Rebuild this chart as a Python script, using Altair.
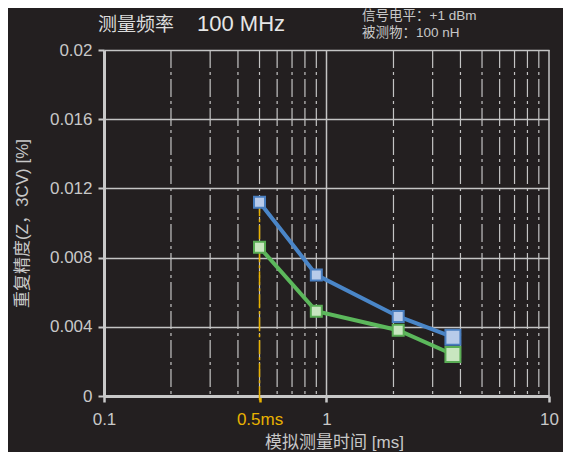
import altair as alt
import pandas as pd

# ---- data ----
t_ms = [0.5, 0.9, 2.1, 3.7]
blue_cv = [0.0112, 0.0070, 0.0046, 0.0034]
green_cv = [0.0086, 0.0049, 0.0038, 0.0024]
series = ["s1", "s2"]
minor_x = [0.2, 0.3, 0.4, 0.5, 0.6, 0.7, 0.8, 0.9, 2, 3, 4, 5, 6, 7, 8, 9]
major_x = [1, 10]
x_ticks = [0.1, 0.5, 1, 10]
y_ticks = [0, 0.004, 0.008, 0.012, 0.016, 0.02]
marker_t = [0.5]
marker_cv = [0.0112]

title_label = "测量频率"
title_value = "100 MHz"
info_lines = ["信号电平：+1 dBm", "被测物：100 nH"]
x_title = "模拟测量时间 [ms]"
y_title = "重复精度(Z，3CV) [%]"

BG = "#231f20"
FG = "#c8c8c8"
ORANGE = "#e8b200"
FONT = "Liberation Sans, Noto Sans CJK SC"

df = pd.DataFrame({
    "t": t_ms + t_ms,
    "cv": blue_cv + green_cv,
    "s": [series[0]] * len(t_ms) + [series[1]] * len(t_ms),
})
minor_df = pd.DataFrame({"t": minor_x})
major_df = pd.DataFrame({"t": major_x})
mark_df = pd.DataFrame({"t": marker_t, "cv": marker_cv})
one = pd.DataFrame({"a": [0]})

xscale = alt.Scale(type="log", domain=[0.1, 10])
yscale = alt.Scale(domain=[0, 0.02])

xaxis = alt.Axis(
    values=x_ticks, grid=False, title=x_title,
    labelExpr="datum.value == 0.5 ? '0.5ms' : '' + datum.value",
    labelColor={"condition": {"test": "datum.value == 0.5", "value": ORANGE}, "value": FG},
    tickColor={"condition": {"test": "datum.value == 0.5", "value": ORANGE}, "value": FG},
    labelFlush=False, labelFontSize=17, labelFont=FONT,
    labelPadding=9, tickSize=6, tickWidth=2.5,
    domainColor=FG, domainWidth=3,
    titleColor=FG, titleFontSize=17, titleFont=FONT, titleFontWeight="normal",
    titleX=230, titleY=46, titleBaseline="middle", titleAnchor="middle",
)
yaxis = alt.Axis(
    values=y_ticks, grid=True, gridColor="#c4c4c4", gridWidth=1.5,
    title=y_title, labelExpr="'' + datum.value",
    labelColor=FG, labelFontSize=17, labelFont=FONT, labelPadding=6,
    tickSize=6, tickWidth=2, tickColor=FG,
    domainColor=FG, domainWidth=3,
    titleColor=FG, titleFontSize=17, titleFont=FONT, titleFontWeight="normal",
    titleX=-82, titleY=173, titleAngle=-90,
    titleBaseline="middle", titleAlign="center",
)

X = alt.X("t:Q", scale=xscale, axis=xaxis)
Y = alt.Y("cv:Q", scale=yscale, axis=yaxis)

minor = alt.Chart(minor_df).mark_rule(
    color="#c4c4c4", strokeWidth=1.2, strokeDash=[18, 4, 3, 4]
).encode(x=X, y=alt.value(0), y2=alt.value(346))
major = alt.Chart(major_df).mark_rule(color="#c4c4c4", strokeWidth=1.5).encode(
    x=X, y=alt.value(0), y2=alt.value(346))
orange = alt.Chart(mark_df).mark_rule(
    color=ORANGE, strokeWidth=1.5, strokeDash=[14, 3, 3, 3]
).encode(x=X, y=Y, y2=alt.value(353))

color_scale = alt.Scale(domain=series, range=["#4a86c8", "#5cb85c"])
fill_scale = alt.Scale(domain=series, range=["#b8cbea", "#c8e6c0"])
stroke_scale = alt.Scale(domain=series, range=["#4a7fc0", "#5aad55"])

lines = alt.Chart(df).mark_line(strokeWidth=4).encode(
    x=X, y=Y, color=alt.Color("s:N", scale=color_scale, legend=None),
)
points = alt.Chart(df).mark_square(filled=True, strokeWidth=2, opacity=1).encode(
    x=X, y=Y,
    fill=alt.Fill("s:N", scale=fill_scale, legend=None),
    stroke=alt.Stroke("s:N", scale=stroke_scale, legend=None),
    size=alt.condition("datum.t > 3", alt.value(225), alt.value(121)),
)

t1 = alt.Chart(one).mark_text(
    align="left", baseline="alphabetic", fontSize=19, font=FONT, color="#dcdcdc"
).encode(x=alt.value(-6), y=alt.value(-19), text=alt.value(title_label))
t2 = alt.Chart(one).mark_text(
    align="left", baseline="alphabetic", fontSize=22, font=FONT, color="#e6e6e6"
).encode(x=alt.value(93), y=alt.value(-19), text=alt.value(title_value))
t3 = alt.Chart(one).mark_text(
    align="left", baseline="middle", fontSize=13.5, font=FONT, color="#c8c8c8"
).encode(x=alt.value(258), y=alt.value(-34), text=alt.value(info_lines[0]))
t4 = alt.Chart(one).mark_text(
    align="left", baseline="middle", fontSize=13.5, font=FONT, color="#c8c8c8"
).encode(x=alt.value(258), y=alt.value(-17), text=alt.value(info_lines[1]))

chart = alt.layer(minor, major, orange, lines, points, t1, t2, t3, t4).properties(
    width=445, height=346,
    autosize=alt.AutoSizeParams(type="none"),
    padding={"left": 96, "top": 42, "right": 14, "bottom": 56},
    background=BG,
).configure_view(stroke=None)

chart.save("out.html", embed_options={"renderer": "svg", "actions": False})
